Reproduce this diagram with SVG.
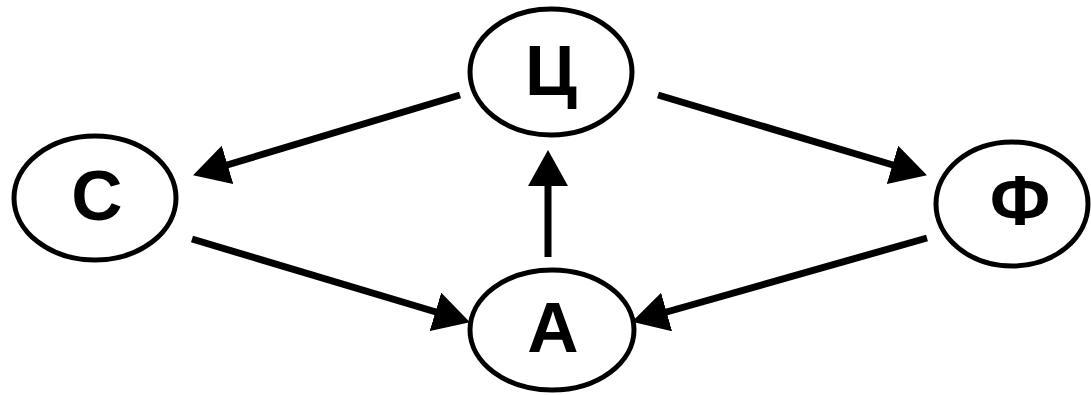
<svg xmlns="http://www.w3.org/2000/svg" width="1091" height="395" viewBox="0 0 1091 395">
<style>
.node ellipse{fill:#fff;stroke:#000;stroke-width:5}
.node text{font-family:"Liberation Sans",Arial,sans-serif;font-weight:bold;font-size:71px;fill:#000;text-anchor:middle}
.edge{stroke:#000;stroke-width:7;fill:none;marker-end:url(#ah)}
</style>
<defs>
<marker id="ah" markerUnits="userSpaceOnUse" viewBox="0 0 36 40" refX="11" refY="20" markerWidth="36" markerHeight="40" orient="auto">
<path d="M0,0 L36,20 L0,40 z" fill="#000"/>
</marker>
</defs>
<rect width="1091" height="395" fill="#fff"/>
<g id="connectors">
<line class="edge" x1="460" y1="95" x2="217" y2="168"/>
<line class="edge" x1="658" y1="95" x2="903" y2="168"/>
<line class="edge" x1="192" y1="239" x2="446" y2="315"/>
<line class="edge" x1="927" y1="238" x2="656" y2="315"/>
<line class="edge" x1="548" y1="257" x2="548" y2="175"/>
</g>
<g id="node-ts" class="node">
<ellipse cx="551" cy="72" rx="81" ry="63"/>
<text x="551" y="95">Ц</text>
</g>
<g id="node-s" class="node">
<ellipse cx="95" cy="198" rx="81" ry="62"/>
<text x="97" y="220">С</text>
</g>
<g id="node-f" class="node">
<ellipse cx="1012" cy="204" rx="76" ry="62"/>
<text x="1020" y="225">Ф</text>
</g>
<g id="node-a" class="node">
<ellipse cx="552" cy="330" rx="82" ry="60"/>
<text x="553" y="352">А</text>
</g>
</svg>
